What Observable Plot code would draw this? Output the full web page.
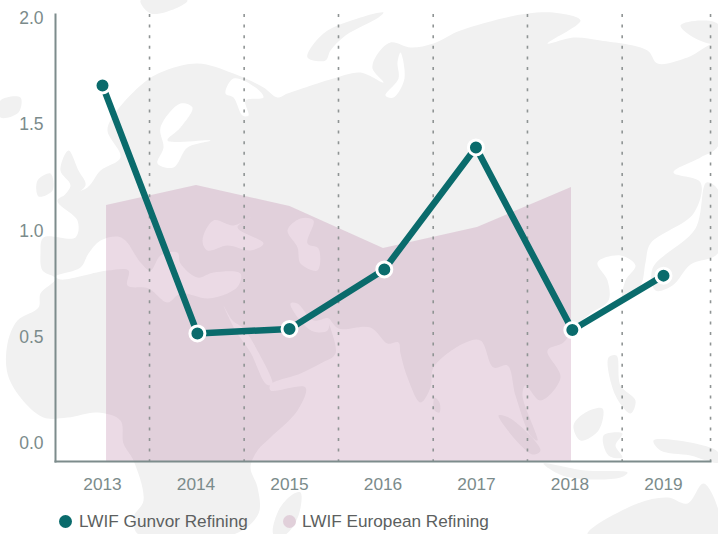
<!DOCTYPE html>
<html>
<head>
<meta charset="utf-8">
<script src="https://cdn.jsdelivr.net/npm/d3@7"></script>
<script src="https://cdn.jsdelivr.net/npm/@observablehq/plot@0.6"></script>
<style>
  html, body { margin: 0; padding: 0; background: #fff; width: 718px; height: 534px; overflow: hidden; }
  #wrap { position: relative; width: 718px; height: 534px; font-family: "Liberation Sans", Arial, sans-serif; }
  #map { position: absolute; left: 0; top: 0; z-index: 0; filter: blur(0.6px); }
  #chart { position: relative; z-index: 1; }
  #legend { position: relative; z-index: 1; height: 34px; box-sizing: border-box; font-size: 17.2px; line-height: 22px; color: #5c5f60; }
  #legend span.sw { position: absolute; top: 15px; width: 13px; height: 13px; border-radius: 50%; }
  #legend span.tx { position: absolute; top: 10px; white-space: nowrap; }
</style>
</head>
<body>
<div id="wrap">
  <div id="map"></div>
  <div id="chart"></div>
  <div id="legend">
    <span class="sw" style="left:59px;background:#0a6b6c"></span><span class="tx" style="left:79px">LWIF Gunvor Refining</span>
    <span class="sw" style="left:283px;background:#e1d0da"></span><span class="tx" style="left:302px">LWIF European Refining</span>
  </div>
</div>
<script>
// chart values
const years = [2013, 2014, 2015, 2016, 2017, 2018, 2019];
const gunvorX = [2013, 2014.015, 2015, 2016.014, 2016.994, 2018.025, 2019];
const gunvorY = [1.685, 0.518, 0.539, 0.819, 1.393, 0.534, 0.79];
const europeanX = [2013.043, 2014.005, 2015.005, 2016.005, 2017.01, 2018.016];
const europeanY = [1.12, 1.214, 1.115, 0.918, 1.016, 1.205];
const dividers = [2013.503, 2014.515, 2015.524, 2016.537, 2017.545, 2018.558, 2019.503];
const yTicks = [0, 0.5, 1, 1.5, 2];

// decorative backdrop map, traced outlines
const eurasiaAfrica = [[107,130],[113,115],[140,85],[160,72],[197,63],[233,73],[263,87],[277,97],[287,93],[317,83],[333,78],[360,72],[383,82],[372,68],[376,55],[390,42],[410,47],[433,43],[460,30],[527,13],[560,13],[580,20],[547,43],[573,37],[600,40],[647,50],[657,63],[687,57],[718,43],[718,145],[700,157],[673,172],[700,182],[693,213],[650,243],[645,262],[640,285],[622,298],[625,280],[635,265],[620,255],[597,262],[607,280],[608,300],[590,313],[573,328],[563,342],[547,350],[560,377],[540,400],[525,385],[522,395],[537,440],[530,435],[515,395],[507,365],[493,367],[480,340],[463,343],[433,367],[430,387],[420,402],[407,377],[400,353],[398,342],[387,343],[370,327],[338,328],[328,318],[335,353],[320,363],[300,373],[270,384],[270,390],[305,387],[297,410],[270,437],[257,450],[250,467],[257,487],[258,513],[233,534],[138,534],[133,517],[143,500],[133,460],[123,443],[120,420],[97,412],[67,417],[43,417],[20,397],[7,373],[7,343],[17,320],[38,307],[40,293],[55,278],[42,270],[40,253],[43,237],[75,237],[77,220],[57,200],[87,187],[100,170],[120,157]];
const britain = [[60,170],[68,150],[78,170],[85,185],[60,200],[70,185]];
const ireland = [[37,180],[50,173],[52,190],[38,196]];
const iceland = [[0,100],[20,97],[18,112],[0,117]];
const arcticIsles = [[307,57],[323,33],[360,17],[383,12],[378,17],[345,35],[330,50],[325,60]];
const siberianIsles = [[680,25],[700,20],[718,24],[718,43],[695,38]];
const northBlob = [[140,0],[187,0],[175,8],[150,13]];
const japan = [[706,182],[718,190],[718,252],[690,264],[672,285],[655,290],[652,268],[695,228]];
const madagascar = [[292,494],[300,492],[298,515],[285,534],[273,534],[278,510]];
const sumatra = [[498,415],[510,418],[540,450],[532,454]];
const borneo = [[573,425],[585,412],[602,408],[598,430],[580,440]];
const philippines = [[608,357],[616,355],[620,385],[635,400],[630,413],[615,395]];
const sulawesi = [[603,435],[622,433],[615,445],[622,457],[608,455]];
const java = [[543,463],[585,470],[627,472],[620,477],[565,476]];
const newGuinea = [[653,440],[690,442],[718,452],[718,462],[690,455],[660,450]];
const australia = [[587,534],[637,503],[667,497],[687,503],[703,483],[718,510],[718,534]];
const sriLanka = [[434,397],[439,402],[439,412],[434,410]];
const landShapes = [eurasiaAfrica, britain, ireland, iceland, arcticIsles, siberianIsles, northBlob, japan, madagascar, sumatra, borneo, philippines, sulawesi, java, newGuinea, australia, sriLanka];

const mediterranean = [[55,276],[80,267],[88,253],[100,240],[117,236],[125,240],[140,262],[150,270],[160,255],[177,252],[180,263],[197,277],[213,272],[240,273],[238,285],[227,293],[207,298],[180,293],[167,302],[148,288],[127,285],[128,270],[107,270],[60,279]];
const blackSea = [[202,240],[213,220],[233,225],[250,217],[237,227],[263,243],[250,250],[227,245],[207,250]];
const caspian = [[287,230],[300,218],[313,220],[307,243],[318,248],[317,270],[300,263],[297,247]];
const baltic = [[160,127],[180,103],[192,107],[180,127],[167,140],[210,140],[187,147],[173,167],[157,163],[163,147]];
const redSea = [[223,305],[232,320],[243,328],[258,352],[272,384],[266,384],[250,352],[235,330]];
const persianGulf = [[290,303],[297,303],[313,320],[328,318],[327,330],[313,331],[298,318]];
const whiteSeaInlet = [[225,93],[233,97],[242,115],[248,115],[245,100],[263,97],[255,87],[233,78]];
const obInlet = [[400,52],[404,78],[393,97],[385,95],[398,78],[397,62]];
const waterShapes = [mediterranean, blackSea, caspian, baltic, redSea, persianGulf, whiteSeaInlet, obInlet];

const teal = "#0a6b6c", axisColor = "#7d8c8c", labelColor = "#7b8b8b";
const gunvor = years.map((y, i) => ({x: gunvorX[i], y: gunvorY[i]}));
const european = europeanX.map((x, i) => ({x, y: europeanY[i]}));
const toRows = (shapes) => shapes.flatMap((s, i) => s.map(([x, y]) => ({x, y, z: i})));

const mapPlot = Plot.plot({
  width: 718, height: 534, margin: 0,
  x: {domain: [0, 718], range: [0, 718], axis: null},
  y: {domain: [0, 534], range: [0, 534], axis: null},
  style: {background: "transparent"},
  marks: [
    Plot.line(toRows(landShapes), {x: "x", y: "y", z: "z", fill: "#f1f1f1", stroke: "none", curve: "catmull-rom-closed"}),
    Plot.line(toRows(waterShapes), {x: "x", y: "y", z: "z", fill: "#ffffff", stroke: "none", curve: "catmull-rom-closed"})
  ]
});
document.getElementById("map").append(mapPlot);

const chart = Plot.plot({
  width: 718, height: 500,
  marginLeft: 55, marginRight: 8, marginTop: 14, marginBottom: 39,
  x: {domain: [2013, 2019], range: [102, 663]},
  y: {domain: [0, 2], range: [443, 18]},
  style: {background: "transparent", fontFamily: "'Liberation Sans', Arial, sans-serif"},
  marks: [
    Plot.areaY(european, {x: "x", y1: -0.085, y2: "y", fill: "rgb(186,127,165)", fillOpacity: 0.29}),
    Plot.ruleX(dividers, {stroke: "#8f9494", strokeWidth: 1.6, strokeDasharray: "3,7.6"}),
    Plot.frame({anchor: "left", stroke: axisColor, strokeWidth: 2}),
    Plot.frame({anchor: "bottom", stroke: axisColor, strokeWidth: 2}),
    Plot.axisX({ticks: years, tickFormat: (d) => String(d), tickSize: 0, tickPadding: 16, fontSize: 17.3, fill: labelColor, label: null, anchor: "bottom"}),
    Plot.axisY({ticks: yTicks, tickFormat: (d) => d.toFixed(1), tickSize: 0, tickPadding: 12, fontSize: 17.5, fill: labelColor, label: null, anchor: "left"}),
    Plot.line(gunvor, {x: "x", y: "y", stroke: teal, strokeWidth: 6.5, strokeLinejoin: "round"}),
    Plot.dot(gunvor, {x: "x", y: "y", r: 7.5, fill: teal, stroke: "#fff", strokeWidth: 3})
  ]
});
document.getElementById("chart").append(chart);
</script>
</body>
</html>
